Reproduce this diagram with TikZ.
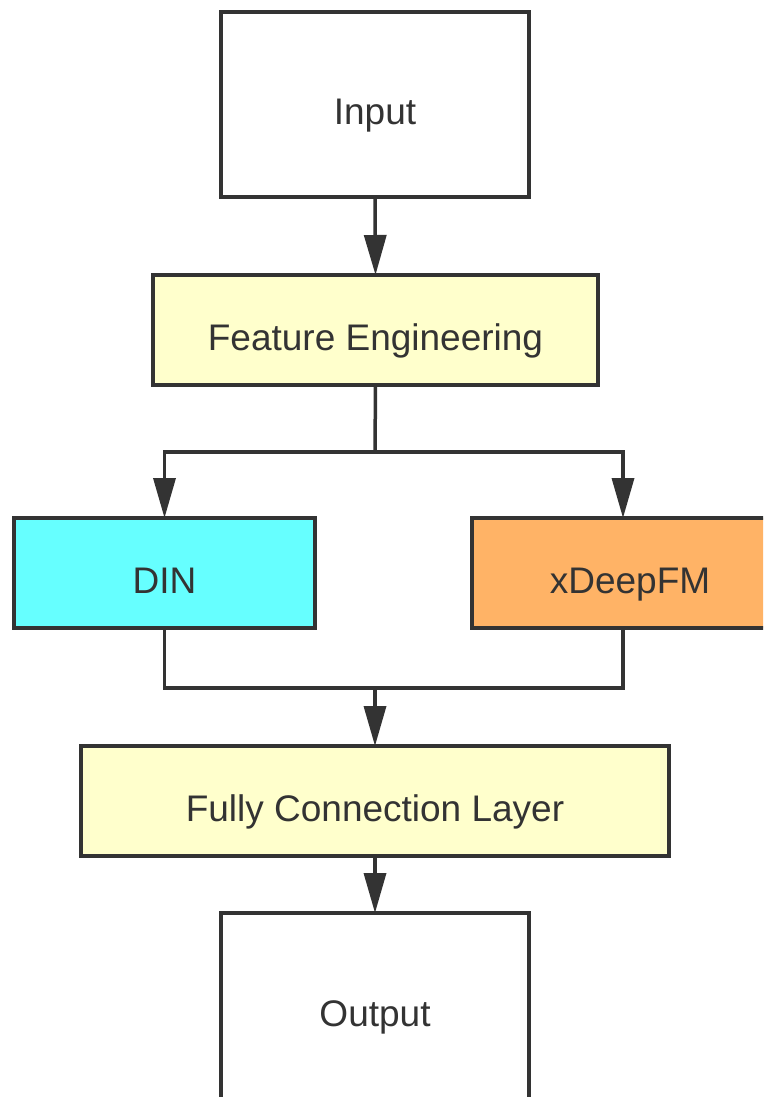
\documentclass[tikz,border=0pt]{standalone}
\usepackage{fontspec}
\setmainfont{Liberation Sans}
\usetikzlibrary{arrows.meta}
\definecolor{edge}{HTML}{333333}
\definecolor{feyellow}{HTML}{FFFFCC}
\definecolor{dincyan}{HTML}{66FFFF}
\definecolor{xdorange}{HTML}{FFB366}
\tikzset{
  box/.style={draw=edge, line width=3.5pt, rectangle, inner sep=0pt, outer sep=0pt,
    text=edge, font=\fontsize{37}{44}\selectfont, text height=40pt, text depth=0pt},
  conn/.style={draw=edge, line width=3.5pt, -{Triangle[length=40pt,width=22pt]}},
  plain/.style={draw=edge, line width=3.5pt}
}
\begin{document}
\begin{tikzpicture}[x=1pt,y=-1pt]
\useasboundingbox (0,0) rectangle (763,1097);
\clip (0,0) rectangle (763,1097);
\fill[white] (0,0) rectangle (763,1097);
\node[box, minimum width=308pt, minimum height=185pt] (in) at (375,104.5) {Input};
\node[box, fill=feyellow, minimum width=445pt, minimum height=110pt] (fe) at (375.5,330) {Feature Engineering};
\node[box, fill=dincyan, minimum width=301pt, minimum height=110pt] (din) at (164.5,573) {DIN};
\node[box, fill=xdorange, minimum width=302pt, minimum height=110pt] (xd) at (623,573) {\hspace*{14pt}xDeepFM};
\node[box, fill=feyellow, minimum width=588pt, minimum height=110pt] (fcl) at (375,801) {Fully Connection Layer};
\node[box, minimum width=308pt, minimum height=186pt] (out) at (375,1006) {Output};
\coordinate (split) at (375,452);
\coordinate (merge) at (375,688);
\draw[conn] (in.south) -- (fe.north);
\draw[plain] (fe.south) -- (split);
\draw[conn] (split) -| (din.north);
\draw[conn] (split) -| (xd.north);
\draw[plain] (din.south) |- (merge);
\draw[plain] (xd.south) |- (merge);
\draw[conn] (merge) -- (fcl.north);
\draw[conn] (fcl.south) -- (out.north);
\end{tikzpicture}
\end{document}
